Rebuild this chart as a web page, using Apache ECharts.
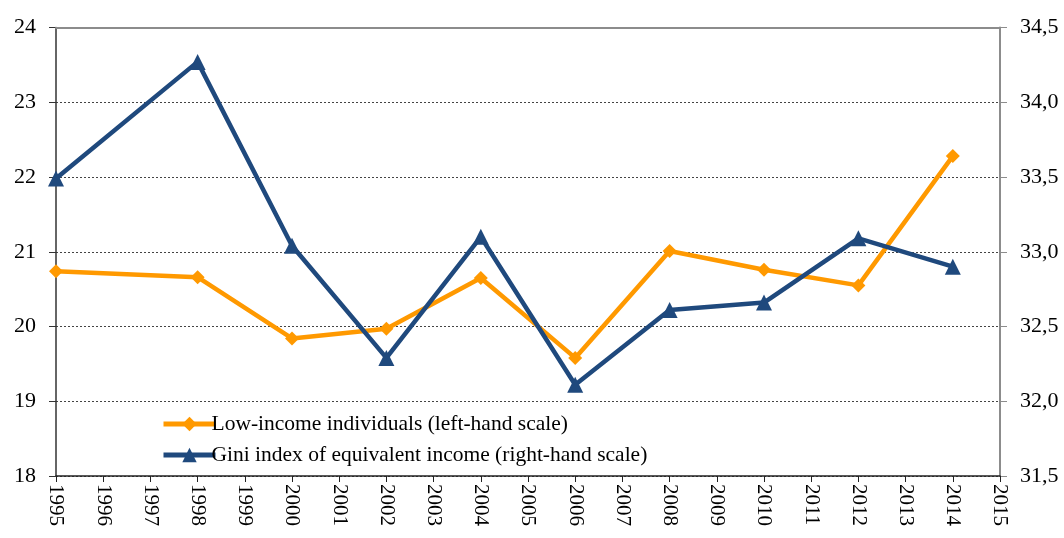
<!DOCTYPE html>
<html>
<head>
<meta charset="utf-8">
<script src="https://cdn.jsdelivr.net/npm/echarts@6/dist/echarts.min.js"></script>
<style>
html,body{margin:0;padding:0;background:#fff;}
#chart{width:1064px;height:538px;}
</style>
</head>
<body>
<div id="chart"></div>
<script>
var years = ['1995','1996','1997','1998','1999','2000','2001','2002','2003','2004','2005','2006','2007','2008','2009','2010','2011','2012','2013','2014','2015'];
var lowIncome = [20.74, null, null, 20.66, null, 19.84, null, 19.97, null, 20.65, null, 19.58, null, 21.01, null, 20.76, null, 20.55, null, 22.28, null];
var gini = [33.49, null, null, 34.27, null, 33.04, null, 32.29, null, 33.10, null, 32.11, null, 32.61, null, 32.66, null, 33.09, null, 32.90, null];
var seriesNames = ['Low-income individuals (left-hand scale)', 'Gini index of equivalent income (right-hand scale)'];

var font = 'Liberation Serif';
var chart = echarts.init(document.getElementById('chart'), null, {renderer:'canvas'});
chart.setOption({
  animation: false,
  backgroundColor: '#fff',
  textStyle: {fontFamily: font},
  grid: {left: 56, right: 64, top: 27.5, bottom: 62},
  legend: {
    orient: 'vertical', left: 156, top: 408, itemWidth: 52, itemHeight: 18, itemGap: 9,
    textStyle: {fontFamily: font, fontSize: 21.5, color: '#000', padding: [0,0,0,-9]},
    lineStyle: {width: 5},
    data: seriesNames
  },
  xAxis: [{
    type: 'category', data: years, boundaryGap: false,
    axisLine: {lineStyle: {color: '#222', width: 1.5}},
    axisTick: {show: true, length: 6, lineStyle: {color: '#222'}, alignWithLabel: true},
    axisLabel: {rotate: -90, fontFamily: font, fontSize: 21, color: '#000', margin: 8, interval: 0},
    splitLine: {show: false}
  }, {
    type: 'category', data: years, boundaryGap: false, position: 'top', z: 5,
    axisLine: {show: true, lineStyle: {color: '#8c8c8c', width: 2}},
    axisTick: {show: false}, axisLabel: {show: false}, splitLine: {show: false}
  }],
  yAxis: [{
    type: 'value', min: 18, max: 24, interval: 1, position: 'left',
    axisLine: {show: true, lineStyle: {color: '#333', width: 1.5}},
    axisTick: {show: true, length: 7, lineStyle: {color: '#333'}},
    axisLabel: {fontFamily: font, fontSize: 22, color: '#000', margin: 20},
    splitLine: {show: true, lineStyle: {color: '#444', type: [2,2], width: 1}}
  }, {
    type: 'value', min: 31.5, max: 34.5, interval: 0.5, position: 'right',
    axisLine: {show: true, lineStyle: {color: '#8c8c8c', width: 2}},
    axisTick: {show: true, length: 7, lineStyle: {color: '#8c8c8c'}},
    axisLabel: {fontFamily: font, fontSize: 22, color: '#000', margin: 20,
      formatter: function(v){ return v.toFixed(1).replace('.', ','); }},
    splitLine: {show: false}
  }],
  series: [{
    name: seriesNames[0], type: 'line', yAxisIndex: 0, data: lowIncome, connectNulls: true,
    symbol: 'diamond', symbolSize: 14, showAllSymbol: true,
    itemStyle: {color: '#FF9900'},
    lineStyle: {color: '#FF9900', width: 4.5}
  }, {
    name: seriesNames[1], type: 'line', yAxisIndex: 1, data: gini, connectNulls: true,
    symbol: 'triangle', symbolSize: 16, showAllSymbol: true,
    itemStyle: {color: '#1F497D'},
    lineStyle: {color: '#1F497D', width: 4.5}
  }]
});
</script>
</body>
</html>
